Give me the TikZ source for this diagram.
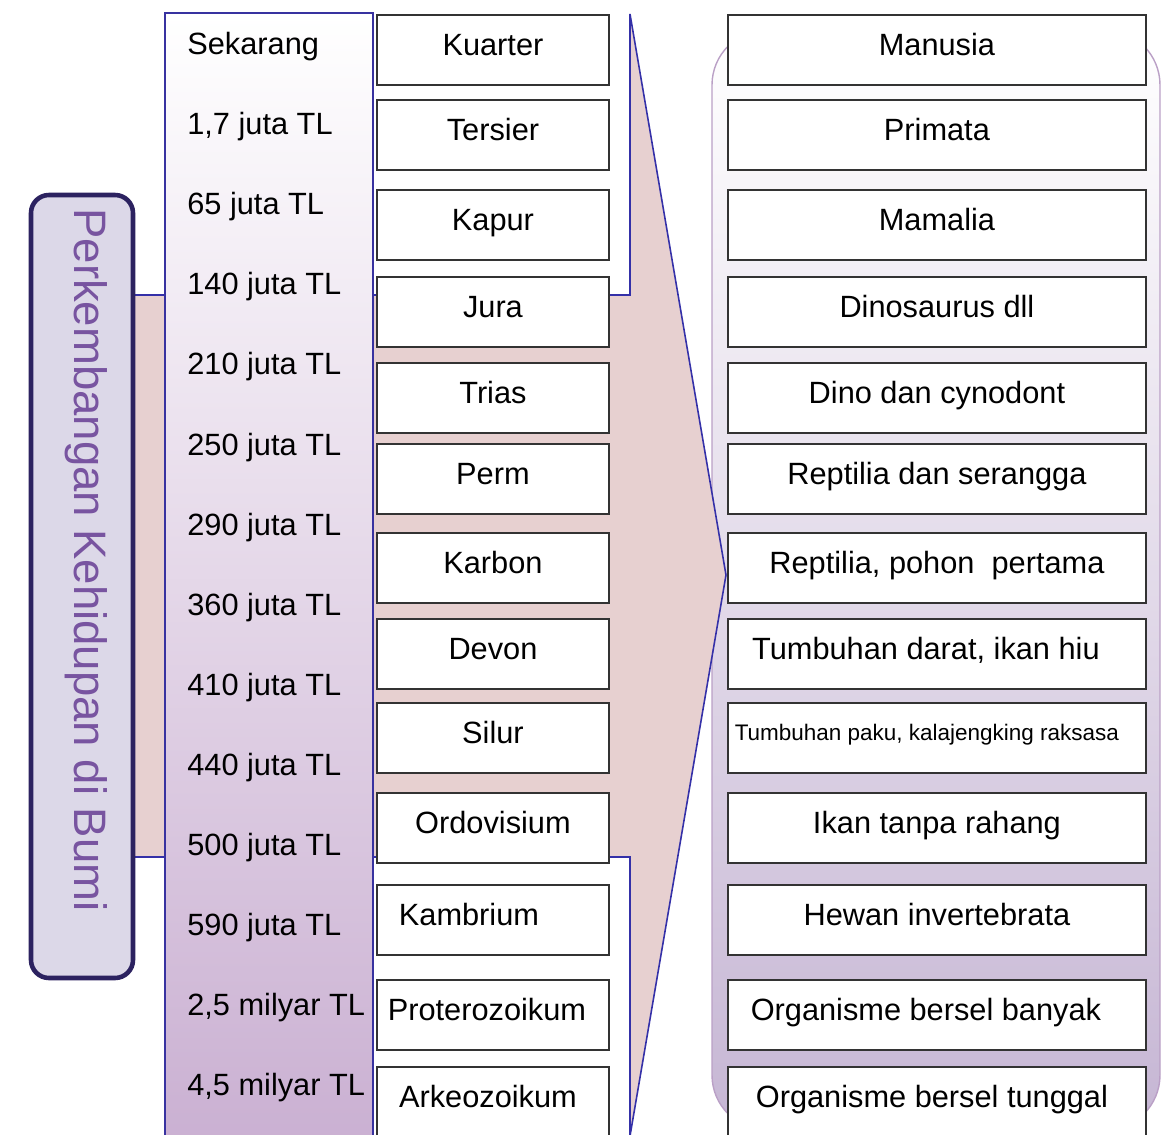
\documentclass[tikz,border=0pt]{standalone}
\usepackage{fontspec}
\setmainfont{Liberation Sans}
\usetikzlibrary{positioning}

\definecolor{arrowpink}{RGB}{231,208,208}
\definecolor{arrowblue}{RGB}{52,48,168}
\definecolor{colblue}{RGB}{56,50,160}
\definecolor{colmid}{RGB}{238,232,241}
\definecolor{colbot}{RGB}{202,176,210}
\definecolor{tagfill}{RGB}{220,216,232}
\definecolor{tagline}{RGB}{44,34,96}
\definecolor{tagtext}{RGB}{120,84,160}
\definecolor{lifebot}{RGB}{198,182,212}
\definecolor{lifeline}{RGB}{186,160,198}

\tikzset{
  era/.style={draw=black!80, line width=1.1pt, fill=white, anchor=north west,
    minimum width=4.64cm, minimum height=1.4cm, inner sep=0pt,
    text height=0.5cm, text depth=0.26cm, font=\fontsize{17.5}{20}\selectfont},
  life/.style={era, minimum width=8.36cm},
  age/.style={anchor=base west, inner sep=0pt, font=\fontsize{17.5}{20}\selectfont},
}

\begin{document}
\begin{tikzpicture}[x=0.02cm, y=-0.02cm]
\useasboundingbox (0,0) rectangle (1167,1135);

% life panel
\draw[lifeline, line width=0.8pt, top color=white, bottom color=lifebot, rounded corners=1.1cm]
  (712,30) rectangle (1160,1130);

% big arrow behind the columns
\draw[arrowblue, line width=0.9pt, fill=arrowpink]
  (120,295) -- (630,295) -- (630,14) -- (726,575) -- (630,1136) -- (630,857) -- (120,857) -- cycle;

% time column
\draw[colblue, line width=1.6pt, top color=white, middle color=colmid, bottom color=colbot]
  (165,13) rectangle (373,1145);

\node[age] (t0) at (187,55) {Sekarang};
\node[age] (t1) at (187,135) {1,7 juta TL};
\node[age] (t2) at (187,215) {65 juta TL};
\node[age] (t3) at (187,295) {140 juta TL};
\node[age] (t4) at (187,375) {210 juta TL};
\node[age] (t5) at (187,455) {250 juta TL};
\node[age] (t6) at (187,535) {290 juta TL};
\node[age] (t7) at (187,615) {360 juta TL};
\node[age] (t8) at (187,695) {410 juta TL};
\node[age] (t9) at (187,775) {440 juta TL};
\node[age] (t10) at (187,855) {500 juta TL};
\node[age] (t11) at (187,935) {590 juta TL};
\node[age] (t12) at (187,1015) {2,5 milyar TL};
\node[age] (t13) at (187,1095) {4,5 milyar TL};

% periods
\node[era] (kuarter) at (376,14) {Kuarter};
\node[era] (tersier) at (376,99) {Tersier};
\node[era] (kapur) at (376,189) {Kapur};
\node[era] (jura) at (376,276) {Jura};
\node[era] (trias) at (376,362) {Trias};
\node[era] (perm) at (376,443) {Perm};
\node[era] (karbon) at (376,532) {Karbon};
\node[era] (devon) at (376,618) {Devon};
\node[era] (silur) at (376,702) {Silur};
\node[era] (ordovisium) at (376,792) {Ordovisium};
\node[era] (kambrium) at (376,884) {\kern-0.96cm Kambrium};
\node[era] (proterozoikum) at (376,979) {\kern-0.24cm Proterozoikum};
\node[era] (arkeozoikum) at (376,1066) {\kern-0.2cm Arkeozoikum};

% life forms
\node[life] (manusia) at (727,14) {Manusia};
\node[life] (primata) at (727,99) {Primata};
\node[life] (mamalia) at (727,189) {Mamalia};
\node[life] (dino) at (727,276) {Dinosaurus dll};
\node[life] (cynodont) at (727,362) {Dino dan cynodont};
\node[life] (serangga) at (727,443) {Reptilia dan serangga};
\node[life] (pohon) at (727,532) {Reptilia, pohon \ pertama};
\node[life] (hiu) at (727,618) {\kern-0.44cm Tumbuhan darat, ikan hiu};
\node[life, font=\fontsize{12.8}{15}\selectfont, text height=0.4cm, text depth=0.28cm]
  (paku) at (727,702) {\kern-0.4cm Tumbuhan paku, kalajengking raksasa};
\node[life] (rahang) at (727,792) {Ikan tanpa rahang};
\node[life] (invertebrata) at (727,884) {Hewan invertebrata};
\node[life] (banyak) at (727,979) {\kern-0.44cm Organisme bersel banyak};
\node[life] (tunggal) at (727,1066) {\kern-0.2cm Organisme bersel tunggal};

% side title
\draw[tagline, line width=2.6pt, fill=tagfill, rounded corners=0.36cm] (31,195) rectangle (133,978);
\node[rotate=-90, text=tagtext, font=\fontsize{25.9}{30}\selectfont] (tag) at (86,560)
  {Perkembangan Kehidupan di Bumi};
\end{tikzpicture}
\end{document}
